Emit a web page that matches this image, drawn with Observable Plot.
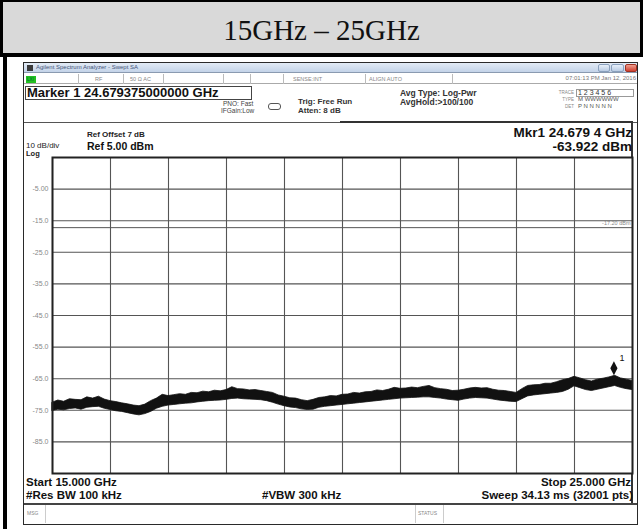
<!DOCTYPE html>
<html><head><meta charset="utf-8">
<script src="https://cdn.jsdelivr.net/npm/d3@7"></script>
<script src="https://cdn.jsdelivr.net/npm/@observablehq/plot@0.6"></script>
<style>
html,body{margin:0;padding:0;background:#fff;}
#c{position:relative;width:643px;height:529px;overflow:hidden;background:#fff;font-family:"Liberation Sans",Arial,sans-serif;}
.a{position:absolute;box-sizing:border-box;}
.t{position:absolute;white-space:nowrap;}
#plot{position:absolute;left:0;top:0;}
</style></head>
<body><div id="c"></div>
<script>
// ---- data ----
const title = "15GHz – 25GHz";
const freqGHz = [15.0,15.1,15.2,15.3,15.4,15.5,15.6,15.7,15.8,15.9,16.0,16.1,16.2,16.3,16.4,16.5,16.6,16.7,16.8,16.9,17.0,17.1,17.2,17.3,17.4,17.5,17.6,17.7,17.8,17.9,18.0,18.1,18.2,18.3,18.4,18.5,18.6,18.7,18.8,18.9,19.0,19.1,19.2,19.3,19.4,19.5,19.6,19.7,19.8,19.9,20.0,20.1,20.2,20.3,20.4,20.5,20.6,20.7,20.8,20.9,21.0,21.1,21.2,21.3,21.4,21.5,21.6,21.7,21.8,21.9,22.0,22.1,22.2,22.3,22.4,22.5,22.6,22.7,22.8,22.9,23.0,23.1,23.2,23.3,23.4,23.5,23.6,23.7,23.8,23.9,24.0,24.1,24.2,24.3,24.4,24.5,24.6,24.7,24.8,24.9,25.0];
const traceHi = [-72.6,-71.9,-72.3,-71.5,-71.7,-71.8,-70.9,-71.3,-70.7,-71.6,-72.1,-72.4,-72.8,-73.1,-73.5,-73.7,-73.2,-72.1,-71.3,-70.1,-70.5,-70.2,-69.9,-70.1,-69.5,-69.6,-69.1,-69.3,-68.8,-69.0,-68.6,-67.7,-68.3,-68.4,-68.7,-68.6,-68.9,-69.2,-69.5,-70.3,-70.7,-71.2,-71.3,-71.8,-72.1,-71.7,-71.1,-70.9,-70.5,-70.6,-70.1,-70.0,-69.5,-69.7,-69.3,-69.2,-68.7,-68.9,-68.5,-67.9,-68.2,-68.1,-67.8,-68.0,-67.6,-67.3,-68.0,-68.3,-68.5,-68.9,-68.8,-68.5,-68.1,-67.9,-68.1,-68.0,-68.5,-68.8,-68.9,-69.2,-69.5,-68.3,-67.3,-67.1,-67.0,-66.6,-66.6,-66.1,-65.5,-65.1,-64.4,-64.9,-65.5,-65.9,-65.3,-65.0,-64.6,-64.1,-64.9,-65.3,-65.7];
const traceLo = [-75.2,-74.8,-75.0,-74.6,-74.4,-74.8,-74.2,-74.0,-73.9,-74.5,-74.9,-75.3,-75.5,-75.9,-76.3,-76.6,-76.2,-75.5,-74.5,-73.9,-73.5,-73.3,-73.1,-72.9,-72.8,-72.5,-72.3,-72.1,-72.0,-71.9,-71.7,-71.4,-71.3,-71.5,-71.6,-71.7,-71.8,-72.1,-72.6,-73.2,-73.7,-74.1,-74.3,-74.7,-74.9,-74.8,-74.2,-73.9,-73.7,-73.5,-73.3,-73.1,-72.9,-72.7,-72.5,-72.3,-72.1,-71.9,-71.7,-71.5,-71.3,-71.2,-71.1,-71.0,-70.9,-70.9,-71.1,-71.3,-71.6,-71.8,-72.0,-71.6,-71.3,-71.1,-71.2,-71.3,-71.6,-71.9,-72.1,-72.3,-72.4,-71.5,-70.6,-70.3,-70.1,-69.9,-69.7,-69.5,-69.2,-68.5,-67.4,-68.0,-68.6,-68.9,-68.5,-68.1,-67.7,-67.3,-67.9,-68.3,-68.6];
const xGrid = [15,16,17,18,19,20,21,22,23,24,25];
const yGrid = [5,-5,-15,-25,-35,-45,-55,-65,-75,-85,-95];
const yTickVals = [-5,-15,-25,-35,-45,-55,-65,-75,-85];
const yTickLabels = ["-5.00","-15.0","-25.0","-35.0","-45.0","-55.0","-65.0","-75.0","-85.0"];
const displayLine = -17.2;
const displayLabel = "-17.20 dBm";
const markerF = 24.679375;
const markerV = -63.922;

const trace = freqGHz.map((f,i)=>({f, hi: traceHi[i], lo: traceLo[i]}));
const yTicks = yTickVals.map((v,i)=>({v, s: yTickLabels[i]}));

// ---- chrome helpers ----
const C = document.getElementById("c");
function box(l,t,w,h,style){const d=document.createElement("div");d.className="a";d.style.cssText=`left:${l}px;top:${t}px;width:${w}px;height:${h}px;`+(style||"");C.appendChild(d);return d;}
function txt(x,cy,s,size,opt){opt=opt||{};const d=document.createElement("div");d.className="t";d.textContent=s;
  const lh=size*(opt.lh||1.2);d.style.fontSize=size+"px";d.style.lineHeight=lh+"px";d.style.top=(cy-lh/2)+"px";
  if(opt.right){d.style.right=(643-x)+"px";}else{d.style.left=x+"px";}
  d.style.color=opt.color||"#111";d.style.fontWeight=opt.weight||"normal";
  if(opt.family)d.style.fontFamily=opt.family;
  C.appendChild(d);return d;}

// title band
box(0,0,643,57,"background:#d9d9d9;border-top:2px solid #000;border-left:3px solid #000;border-right:3px solid #000;border-bottom:4px solid #000;");
const tt = txt(0,30,title,29,{family:'"Liberation Serif","Times New Roman",serif',color:"#111"});
tt.style.width="643px";tt.style.textAlign="center";
// left strip of lower box
box(3,57,4,472,"background:#000;");
// analyzer window
box(23,62,615,463,"border:1.5px solid #2a2a2a;background:#fff;");
box(24,63,613,10,"background:linear-gradient(#e3ebf6,#c3d3e8);border-bottom:1px solid #8a9ab0;");
box(27,65,6,6,"background:#3a3a3a;");
txt(36,68,"Agilent Spectrum Analyzer - Swept SA",6,{color:"#44557a"});
box(598,64,12,8,"background:linear-gradient(#e8f0fa,#b9cbe3);border:1px solid #8aa0bd;border-radius:2px;");
box(611,64,13,8,"background:linear-gradient(#e8f0fa,#b9cbe3);border:1px solid #8aa0bd;border-radius:2px;");
box(625,64,12,8,"background:linear-gradient(#f0a090,#d04030);border:1px solid #a03020;border-radius:2px;");
// status row
box(24,74,613,10,"border-bottom:1px solid #aaa;");
box(26,76,10,7,"background:#22c022;");
txt(27,79.5,"LXI",4.5,{color:"#063"});
[78,123,163,223,250,283,365,452].forEach(x=>box(x,74,1,10,"background:#bbb;"));
txt(95,79,"RF",5.5,{color:"#888"});
txt(130,79,"50 Ω   AC",5.5,{color:"#888"});
txt(293,79,"SENSE:INT",5.5,{color:"#888"});
txt(369,79,"ALIGN AUTO",5.5,{color:"#888"});
txt(636,79,"07:01:13 PM Jan 12, 2016",6,{right:true,color:"#777"});
// marker row
box(25,86,227,14,"border:1px solid #444;");
txt(27,93,"Marker 1 24.679375000000 GHz",13,{weight:"bold",color:"#111"});
txt(223,103.5,"PNO: Fast",6.5,{color:"#444"});
txt(221,111,"IFGain:Low",6.5,{color:"#444"});
box(268,103,13,7,"border:1px solid #555;border-radius:3px;");
txt(298,102,"Trig: Free Run",8,{weight:"bold",color:"#333"});
txt(298,111,"Atten: 8 dB",8,{weight:"bold",color:"#333"});
txt(400,93,"Avg Type: Log-Pwr",8.5,{weight:"bold",color:"#333"});
txt(400,102.5,"AvgHold:>100/100",8.5,{weight:"bold",color:"#333"});
txt(574,93,"TRACE",4.5,{right:true,color:"#888"});
txt(574,100,"TYPE",4.5,{right:true,color:"#888"});
txt(574,107,"DET",4.5,{right:true,color:"#888"});
box(576,89,58,8,"border:1px solid #999;");
txt(578,93,"1 2 3 4 5 6",7,{color:"#333"});
txt(578,100,"M WWWWWW",6,{color:"#555"});
txt(578,107,"P N N N N N",6,{color:"#555"});
// separator + marker readout box
box(24,122,613,1,"background:#555;");
box(631,122,2,35,"background:#333;");
box(340,121,293,2,"background:#333;");
txt(87,135,"Ref Offset 7 dB",8,{weight:"bold",color:"#222"});
txt(26,146,"10 dB/div",8,{color:"#222"});
txt(87,146.5,"Ref 5.00 dBm",10.5,{weight:"bold",color:"#111"});
txt(26,153.5,"Log",7.5,{weight:"bold",color:"#222"});
txt(632,133,"Mkr1 24.679 4 GHz",13.5,{right:true,weight:"bold",color:"#111",lh:1});
txt(632,147,"-63.922 dBm",13.5,{right:true,weight:"bold",color:"#111",lh:1});
// bottom area
box(631,473,2,31,"background:#333;");
box(24,503,613,1.5,"background:#444;");
txt(26,483,"Start 15.000 GHz",11.5,{weight:"bold",color:"#111"});
txt(26,496,"#Res BW 100 kHz",11.5,{weight:"bold",color:"#111"});
txt(262,496,"#VBW 300 kHz",11.5,{weight:"bold",color:"#111"});
txt(631,483,"Stop 25.000 GHz",11.5,{right:true,weight:"bold",color:"#111"});
txt(633,496,"Sweep  34.13 ms (32001 pts)",11.5,{right:true,weight:"bold",color:"#111"});
box(45,505,1,18,"background:#ccc;");
box(415,505,1,18,"background:#ccc;");
box(443,505,1,18,"background:#ccc;");
txt(27,513,"MSG",5,{color:"#888"});
txt(418,513,"STATUS",5,{color:"#888"});

// ---- plot ----
const tallDiamond = {draw(ctx){ctx.moveTo(0,-7);ctx.lineTo(3.6,0);ctx.lineTo(0,7);ctx.lineTo(-3.6,0);ctx.closePath();}};
const chart = Plot.plot({
  width: 643, height: 529,
  marginLeft: 52, marginRight: 11, marginTop: 157, marginBottom: 56,
  x: {domain: [15, 25], axis: null},
  y: {domain: [-95, 5], axis: null},
  style: {background: "transparent", fontFamily: '"Liberation Sans",Arial,sans-serif'},
  marks: [
    Plot.ruleX(xGrid, {stroke: "#555", strokeWidth: 1.1}),
    Plot.ruleY(yGrid, {stroke: "#555", strokeWidth: 1.1}),
    Plot.ruleY([displayLine], {stroke: "#555", strokeWidth: 1}),
    Plot.text([displayLabel], {x: 25, y: displayLine, text: d => d, textAnchor: "end", dx: -2, dy: -4, fontSize: 5.5, fill: "#888"}),
    Plot.text(yTicks, {y: "v", text: "s", frameAnchor: "left", textAnchor: "end", dx: -4, fontSize: 7, fill: "#888"}),
    Plot.areaY(trace, {x: "f", y1: "lo", y2: "hi", fill: "#111", stroke: "#111", strokeWidth: 0.8, curve: "linear"}),
    Plot.frame({stroke: "#222", strokeWidth: 2}),
    Plot.dot([{f: markerF, v: markerV}], {x: "f", y: "v", symbol: tallDiamond, fill: "#111", stroke: "none", dy: -7}),
    Plot.text([{f: markerF, v: markerV, s: "1"}], {x: "f", y: "v", text: "s", dx: 8, dy: -17, fontSize: 9, fill: "#111"})
  ]
});
chart.id = "plot";
C.appendChild(chart);
</script>
</body></html>
